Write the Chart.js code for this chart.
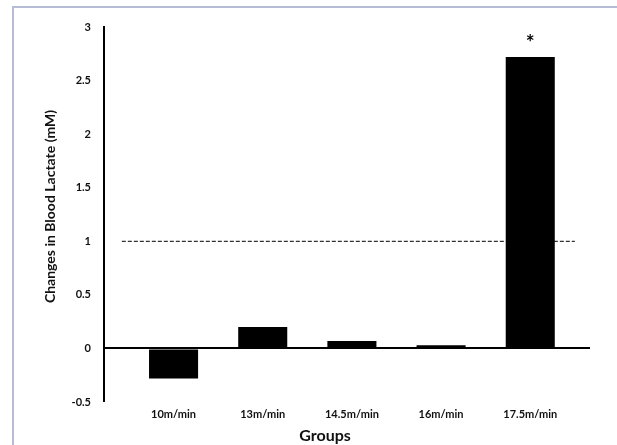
<!DOCTYPE html>
<html>
<head>
<meta charset="utf-8">
<script src="https://cdn.jsdelivr.net/npm/chart.js@4.4.1/dist/chart.umd.min.js"></script>
<style>
  html, body { margin: 0; padding: 0; background: #fff; overflow: hidden; }
  #wrap { position: relative; width: 617px; height: 445px; overflow: hidden; }
  #frame {
    position: absolute; left: 12px; top: 6px; width: 700px; height: 600px;
    border: 2px solid #b6bbd6; box-sizing: border-box; pointer-events: none;
  }
  canvas { position: absolute; left: 0; top: 0; }
</style>
</head>
<body>
<div id="wrap">
  <canvas id="chart" width="617" height="445"></canvas>
  <div id="frame"></div>
</div>
<script>
// Treadmill speed groups and the change in blood lactate (mM) for each
const groups = ['10m/min', '13m/min', '14.5m/min', '16m/min', '17.5m/min'];
const lactateChange = [-0.28, 0.2, 0.07, 0.03, 2.72];
const significance = ['', '', '', '', '*'];
const yTicks = [-0.5, 0, 0.5, 1, 1.5, 2, 2.5, 3];
const thresholdValue = 1;

// horizontal extent of the index axis and of the reference line (in group index units)
const xRange = [-0.78, 4.67];
const thresholdSpan = [-0.58, 4.5];

const FONT = 'Lato, "Open Sans", sans-serif';
const TEXT = '#111';

const barData = groups.map((g, i) => ({ x: i, y: lactateChange[i] }));
const thresholdData = thresholdSpan.map(x => ({ x, y: thresholdValue }));

const annotations = {
  id: 'annotations',
  afterDatasetsDraw(chart) {
    const { ctx } = chart;
    const meta = chart.getDatasetMeta(0);
    ctx.save();
    ctx.fillStyle = '#000';
    ctx.font = 'bold 21px ' + FONT;
    ctx.textAlign = 'center';
    ctx.textBaseline = 'alphabetic';
    meta.data.forEach((bar, i) => {
      if (significance[i]) ctx.fillText(significance[i], bar.x, bar.y - 7);
    });
    ctx.restore();
  },
  afterDraw(chart) {
    const { ctx, chartArea } = chart;
    ctx.save();
    ctx.fillStyle = TEXT;
    ctx.textAlign = 'center';
    ctx.textBaseline = 'middle';
    // value axis title
    ctx.font = 'bold 14px ' + FONT;
    ctx.translate(chartArea.left - 54, (chartArea.top + chartArea.bottom) / 2 - 8);
    ctx.rotate(-Math.PI / 2);
    ctx.fillText('Changes in Blood Lactate (mM)', 0, 0);
    ctx.restore();
    ctx.save();
    ctx.fillStyle = TEXT;
    ctx.textAlign = 'center';
    ctx.textBaseline = 'middle';
    ctx.font = 'bold 16px ' + FONT;
    ctx.fillText('Groups', (chartArea.left + chartArea.right) / 2 - 22, chartArea.bottom + 34);
    ctx.restore();
  }
};

new Chart(document.getElementById('chart'), {
  type: 'bar',
  data: {
    datasets: [
      {
        type: 'bar',
        data: barData,
        backgroundColor: '#000',
        borderWidth: 0,
        barPercentage: 0.55,
        categoryPercentage: 1,
        order: 1
      },
      {
        type: 'line',
        data: thresholdData,
        borderColor: '#333',
        borderWidth: 1.2,
        borderDash: [4, 2],
        pointRadius: 0,
        fill: false,
        order: 2
      }
    ]
  },
  options: {
    responsive: false,
    animation: false,
    events: [],
    layout: { padding: { left: 0, right: 27, top: 27, bottom: 0 } },
    plugins: { legend: { display: false }, tooltip: { enabled: false } },
    scales: {
      x: {
        type: 'linear',
        min: xRange[0],
        max: xRange[1],
        offset: false,
        afterBuildTicks(scale) { scale.ticks = groups.map((g, i) => ({ value: i })); },
        afterFit(scale) { scale.height = 43; },
        grid: { display: false, drawTicks: false },
        border: { display: false },
        ticks: {
          autoSkip: false,
          maxRotation: 0,
          padding: 6,
          color: TEXT,
          font: { family: FONT, size: 11, weight: 'bold' },
          callback: v => groups[v] ?? ''
        }
      },
      y: {
        min: -0.5,
        max: 3,
        afterBuildTicks(scale) { scale.ticks = yTicks.map(v => ({ value: v })); },
        afterFit(scale) { scale.width = 104; },
        grid: {
          drawTicks: false,
          color: c => (c.tick && c.tick.value === 0 ? '#000' : 'rgba(0,0,0,0)'),
          lineWidth: c => (c.tick && c.tick.value === 0 ? 2 : 0)
        },
        border: { display: true, color: '#000', width: 2 },
        ticks: {
          padding: 13,
          color: TEXT,
          font: { family: FONT, size: 11, weight: 'bold' },
          callback: v => String(v)
        }
      }
    }
  },
  plugins: [annotations]
});
</script>
</body>
</html>
